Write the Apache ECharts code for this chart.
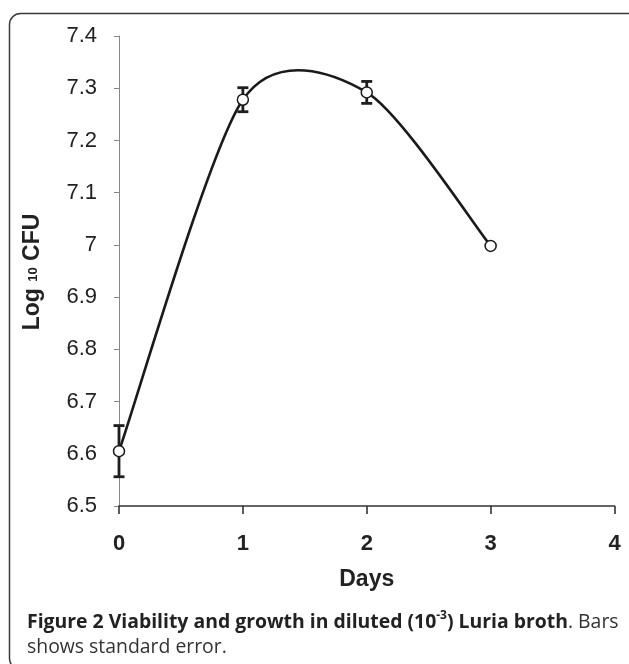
<!DOCTYPE html>
<html><head><meta charset="utf-8">
<script src="https://cdn.jsdelivr.net/npm/echarts@6/dist/echarts.min.js"></script>
<style>html,body{margin:0;padding:0;background:#fff}#c{width:629px;height:664px}</style>
</head><body><div id="c"></div>
<script>
// ---- data ----
const days = [0, 1, 2, 3];
const log10CFU = [6.605, 7.278, 7.292, 6.998];
const stdErr = [0.049, 0.023, 0.021, 0.003];
const xTickLabels = ['0', '1', '2', '3', '4'];
const yMin = 6.5, yMax = 7.4, yStep = 0.1;
const xTitle = 'Days';
const captionBold = 'Figure 2 Viability and growth in diluted (10';
const captionSup = '-3';
const captionBold2 = ') Luria broth';
const captionRegular = '. Bars';
const captionLine2 = 'shows standard error.';

const lineData = days.map((d, i) => [d, log10CFU[i]]);
const errData = days.map((d, i) => [d, log10CFU[i] - stdErr[i], log10CFU[i] + stdErr[i]]);

// spline tension (Excel-like smoothed line)
const TENSION = 0.135;

const chart = echarts.init(document.getElementById('c'), null, {renderer: 'canvas'});
chart.setOption({
  animation: false,
  backgroundColor: '#fff',
  grid: {left: 119, right: 14.5, top: 36, bottom: 158, containLabel: false},
  xAxis: {
    type: 'value', min: 0, max: 4, interval: 1,
    name: xTitle, nameLocation: 'middle', nameGap: 62,
    nameTextStyle: {fontFamily: 'Liberation Sans', fontWeight: 'bold', fontSize: 23, color: '#222'},
    axisLine: {show: true, lineStyle: {color: '#333', width: 1.6}},
    axisTick: {show: true, length: 8, lineStyle: {color: '#333', width: 1.6}},
    axisLabel: {margin: 27, fontFamily: 'Liberation Sans', fontWeight: 'bold', fontSize: 22, color: '#222',
      formatter: v => xTickLabels[Math.round(v)]},
    splitLine: {show: false}
  },
  yAxis: {
    type: 'value', min: yMin, max: yMax, interval: yStep,
    axisLine: {show: true, lineStyle: {color: '#888', width: 1}},
    axisTick: {show: true, length: 5, lineStyle: {color: '#888', width: 1}},
    axisLabel: {margin: 22, fontFamily: 'Liberation Sans', fontSize: 22, color: '#222',
      formatter: v => String(Math.round(v * 10) / 10)},
    splitLine: {show: false}
  },
  series: [
    {
      // smoothed curve through the data points (Catmull-Rom style bezier segments)
      type: 'custom', z: 2,
      data: lineData,
      renderItem: function (params, api) {
        const i = params.dataIndex;
        const n = lineData.length;
        if (i >= n - 1) return {type: 'group', children: []};
        const P = j => api.coord(lineData[Math.max(0, Math.min(n - 1, j))]);
        const p0 = P(i - 1), p1 = P(i), p2 = P(i + 1), p3 = P(i + 2);
        const k = TENSION;
        return {
          type: 'bezierCurve',
          shape: {
            x1: p1[0], y1: p1[1], x2: p2[0], y2: p2[1],
            cpx1: p1[0] + (p2[0] - p0[0]) * k, cpy1: p1[1] + (p2[1] - p0[1]) * k,
            cpx2: p2[0] - (p3[0] - p1[0]) * k, cpy2: p2[1] - (p3[1] - p1[1]) * k
          },
          style: {fill: 'none', stroke: '#1a1a1a', lineWidth: 2.6, lineCap: 'round'}
        };
      }
    },
    {
      type: 'custom', z: 3,
      data: errData,
      renderItem: function (params, api) {
        const x = api.value(0);
        const lo = api.coord([x, api.value(1)]);
        const hi = api.coord([x, api.value(2)]);
        const w = 5.5;
        const st = {stroke: '#1e1e1e', lineWidth: 2.8};
        return {type: 'group', children: [
          {type: 'line', shape: {x1: lo[0], y1: lo[1], x2: hi[0], y2: hi[1]}, style: st},
          {type: 'line', shape: {x1: lo[0] - w, y1: lo[1], x2: lo[0] + w, y2: lo[1]}, style: st},
          {type: 'line', shape: {x1: hi[0] - w, y1: hi[1], x2: hi[0] + w, y2: hi[1]}, style: st}
        ]};
      }
    },
    {
      type: 'scatter', z: 4,
      data: lineData,
      symbol: 'circle', symbolSize: 11,
      itemStyle: {color: '#fff', borderColor: '#1a1a1a', borderWidth: 1.5, opacity: 1}
    }
  ],
  graphic: [
    {type: 'rect', z: -10, shape: {x: 9.5, y: 13.5, width: 640, height: 656, r: 11},
     style: {fill: 'none', stroke: '#3a3a3a', lineWidth: 1.5}},
    {type: 'text', x: 33, y: 272, rotation: Math.PI / 2,
     style: {text: '{a|Log }{s|10}{a| CFU}', align: 'center', verticalAlign: 'middle',
       rich: {a: {fontFamily: 'Liberation Sans', fontWeight: 'bold', fontSize: 23, fill: '#222'},
              s: {fontFamily: 'Liberation Sans', fontWeight: 'bold', fontSize: 13, fill: '#222'}}}},
    {type: 'text', x: 27, y: 622,
     style: {text: '{b|' + captionBold + '}{s|' + captionSup + '}{b|' + captionBold2 + '}{r|' + captionRegular + '}',
       verticalAlign: 'middle',
       rich: {b: {fontFamily: 'Open Sans', fontWeight: 'bold', fontSize: 19.4, fill: '#222', lineHeight: 24},
              s: {fontFamily: 'Open Sans', fontWeight: 'bold', fontSize: 12, fill: '#222', lineHeight: 12, verticalAlign: 'top'},
              r: {fontFamily: 'Open Sans', fontSize: 19.4, fill: '#333', lineHeight: 24}}}},
    {type: 'text', x: 27, y: 647,
     style: {text: captionLine2, verticalAlign: 'middle', fontFamily: 'Open Sans', fontSize: 19.4, fill: '#333'}}
  ]
});
</script></body></html>
